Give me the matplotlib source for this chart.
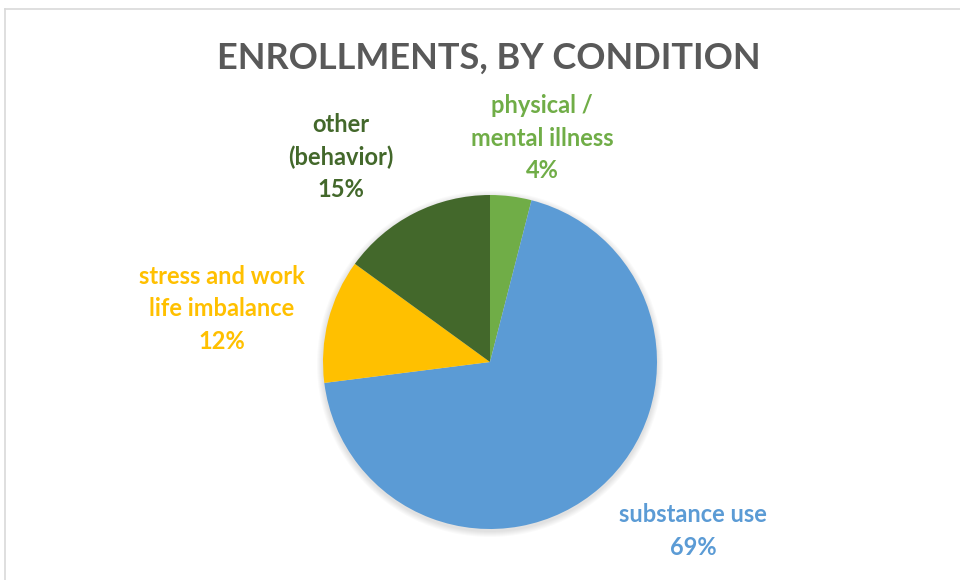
import matplotlib
matplotlib.use("Agg")
import matplotlib.pyplot as plt
from matplotlib.lines import Line2D
from matplotlib.patches import Circle

categories = ["physical /\nmental illness", "substance use", "stress and work\nlife imbalance", "other\n(behavior)"]
values = [4, 69, 12, 15]
colors = ["#70AD47", "#5B9BD5", "#FFC000", "#43682B"]
# label centre positions in figure pixels (x, y from top)
label_pos = [(542, 138), (693, 531), (222, 309), (341, 157)]

W, H = 960, 580
fig = plt.figure(figsize=(W / 100, H / 100), dpi=100)
fig.patch.set_facecolor("white")

# chart frame
fig.add_artist(Line2D([5 / W, 1], [1 - 9 / H, 1 - 9 / H], color="#D9D9D9", lw=1.2))
fig.add_artist(Line2D([5 / W, 5 / W], [1 - 9 / H, 0], color="#D9D9D9", lw=1.2))

cx, cy, r = 490, 362, 167
ax = fig.add_axes([(cx - r) / W, (H - cy - r) / H, 2 * r / W, 2 * r / H])

# soft shadow
for i in range(6):
    ax.add_patch(Circle((0, -0.012), 1.0 + 0.006 * (6 - i), color="black", alpha=0.018,
                        lw=0, zorder=0, clip_on=False))

wedges, _ = ax.pie(values, colors=colors, startangle=90, counterclock=False, radius=1,
                   wedgeprops=dict(linewidth=0))
ax.set_xlim(-1, 1)
ax.set_ylim(-1, 1)
ax.set_aspect("equal")
ax.axis("off")
for w in wedges:
    w.set_clip_on(False)

fam = ["Lato", "DejaVu Sans"]
fig.text(489 / W, 1 - 58 / H, "ENROLLMENTS, BY CONDITION", ha="center", va="center",
         fontsize=26, fontweight="bold", color="#595959", family=fam)

total = sum(values)
for cat, v, col, (px, py) in zip(categories, values, colors, label_pos):
    txt = f"{cat}\n{round(100 * v / total)}%"
    fig.text(px / W, 1 - py / H, txt, ha="center", va="center", fontsize=17,
             fontweight="bold", color=col, family=fam, linespacing=1.5)

fig.savefig("out.png", dpi=100)
